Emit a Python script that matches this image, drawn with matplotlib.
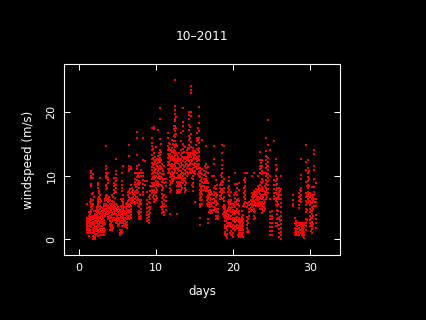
import matplotlib
matplotlib.use('Agg')
import matplotlib.pyplot as plt

plt.rcParams['font.family'] = ['DejaVu Sans']

# wind readings grouped by quarter day columns
days = [1.0, 1.25, 1.5, 1.75, 2.0, 2.25, 2.5, 2.75, 3.0, 3.25, 3.5, 3.75,
        4.0, 4.25, 4.5, 4.75, 5.0, 5.25, 5.5, 5.75, 6.0, 6.25, 6.5, 6.75,
        7.0, 7.25, 7.5, 7.75, 8.0, 8.25, 8.5, 8.75, 9.0, 9.25, 9.5, 9.75,
        10.0, 10.25, 10.5, 10.75, 11.0, 11.25, 11.5, 11.75, 12.0, 12.25, 12.5, 12.75,
        13.0, 13.25, 13.5, 13.75, 14.0, 14.25, 14.5, 14.75, 15.0, 15.25, 15.5, 15.75,
        16.0, 16.25, 16.5, 16.75, 17.0, 17.25, 17.5, 17.75, 18.0, 18.25, 18.5, 18.75,
        19.0, 19.25, 19.5, 19.75, 20.0, 20.25, 20.5, 20.75, 21.0, 21.25, 21.5, 21.75,
        22.0, 22.25, 22.5, 22.75, 23.0, 23.25, 23.5, 23.75, 24.0, 24.25, 24.5, 24.75,
        25.0, 25.25, 25.5, 25.75, 26.0, 26.25, 27.75, 28.0, 28.25, 28.5, 28.75, 29.0,
        29.25, 29.5, 29.75, 30.0, 30.25, 30.5, 30.75]

speeds = [
    [1.0, 1.4, 1.7, 2.1, 2.4, 2.7, 3.0, 3.3, 5.6],
    [0.5, 0.9, 1.3, 1.6, 2.0, 2.5, 2.8, 3.2, 3.7, 4.3],
    [1.0, 1.5, 1.9, 2.2, 2.6, 3.0, 3.5, 4.2, 4.6, 5.1, 5.6, 6.0, 6.4, 8.4, 8.7, 9.6, 10.0, 10.4, 10.7],
    [0.1, 0.5, 0.9, 1.4, 1.8, 2.2, 2.7, 3.1, 3.6, 5.2, 5.6, 6.1, 7.3, 9.7, 10.2],
    [0.0, 0.4, 0.8, 1.3, 1.7, 2.0, 2.5, 2.9, 3.3, 3.7, 4.0],
    [0.8, 1.3, 1.7, 2.1, 2.6, 3.0, 3.4, 3.8, 4.3, 4.8, 5.1],
    [0.5, 0.9, 1.5, 1.9, 2.4, 2.8, 3.2, 3.7, 4.1, 4.6, 5.1, 5.5, 6.0, 6.4, 8.0, 8.5, 8.9],
    [0.7, 1.2, 1.6, 2.0, 2.5, 2.9, 3.4, 3.9, 4.3, 4.7, 5.3, 5.9, 6.3, 7.0, 9.6],
    [0.7, 1.1, 1.6, 2.1, 2.5, 2.8, 3.2, 3.6, 4.0, 4.5],
    [0.7, 1.2, 1.7, 2.2, 2.6, 3.0, 3.5, 3.9, 4.4, 4.8, 5.3, 5.6],
    [3.9, 4.3, 4.7, 5.2, 5.6, 6.1, 6.7, 7.0, 7.9, 8.3, 8.6, 9.6, 10.0, 10.5, 11.0, 11.5, 14.7],
    [3.1, 3.5, 3.9, 4.4, 4.9, 5.3, 5.8, 6.3, 8.9, 9.3, 9.7, 10.4],
    [1.5, 2.0, 2.4, 2.9, 3.3, 3.7, 4.2, 4.7, 5.1, 5.6, 6.1],
    [1.5, 1.9, 2.3, 2.8, 3.3, 3.8, 4.2, 4.7, 5.1, 5.6, 6.0, 6.9],
    [3.0, 3.4, 3.9, 4.4, 4.8, 5.3, 5.9, 7.3, 7.8, 8.3, 8.9, 9.6],
    [2.5, 3.0, 3.4, 3.9, 4.4, 4.9, 5.6, 7.5, 8.0, 8.6, 9.1, 9.6, 10.3, 10.7, 12.7],
    [2.0, 2.4, 2.9, 3.3, 3.8, 4.3, 5.1],
    [0.7, 1.0, 1.5, 2.5, 2.9, 3.3, 3.8, 4.2, 4.6],
    [1.0, 1.5, 2.0, 2.5, 2.9, 3.3, 3.9, 4.3, 4.9, 6.0, 7.6, 8.1, 8.6, 9.2, 10.5],
    [2.5, 2.9, 3.4, 3.9, 4.3, 4.8, 5.3, 5.8, 6.9, 11.5],
    [2.0, 2.4, 2.9, 3.4, 3.9, 4.5, 5.1],
    [1.7, 2.2, 2.7, 3.1, 3.6, 4.1, 4.6, 5.2, 5.7],
    [3.1, 3.6, 4.1, 4.6, 5.1, 5.6, 6.2, 6.7, 7.6, 10.7, 11.1, 11.6, 13.1, 14.8],
    [3.3, 3.8, 4.3, 4.8, 5.3, 5.7, 6.2, 8.5, 8.5, 11.0, 11.4],
    [5.7, 6.2, 6.7, 7.1, 7.7],
    [5.5, 5.9, 6.4, 6.9, 7.4, 8.5, 9.0, 9.5, 10.4],
    [5.7, 6.2, 6.7, 7.2, 7.7, 8.2, 8.7, 9.3, 9.8, 10.4, 11.0, 11.6, 13.2, 15.9, 16.9],
    [3.1, 3.5, 4.0, 4.5, 5.1, 5.6, 6.2, 8.0, 8.5, 9.1, 9.8, 10.5, 11.7],
    [3.2, 3.6, 4.2, 4.8, 5.5, 6.1, 9.9, 10.4, 10.9],
    [7.0, 7.5, 8.1, 8.7, 9.3, 10.0, 10.5, 12.5, 15.9],
    [8.6, 9.2, 12.3],
    [2.8, 3.3, 3.8, 4.3, 4.9, 5.5, 6.1, 7.5, 9.1],
    [2.6, 3.0, 3.5, 4.0, 4.5, 5.1, 5.8, 6.6],
    [4.1, 4.7, 5.1, 5.7, 6.3, 7.0, 7.6, 8.3],
    [7.3, 7.8, 8.4, 8.9, 9.5, 10.2, 10.9, 11.4, 12.0, 12.6, 13.3, 14.0, 14.7, 15.1, 16.0, 17.5],
    [5.9, 6.4, 7.0, 7.7, 8.3, 8.9, 9.4, 10.0, 10.6, 11.2, 11.9, 12.5, 13.6, 17.3, 17.7],
    [6.2, 6.8, 7.4, 8.0, 8.6, 9.2, 9.9, 10.5, 11.1, 11.8, 12.4, 14.5],
    [8.4, 9.0, 9.6, 10.2, 10.7, 11.3, 12.0, 12.7, 13.1, 17.2],
    [9.4, 10.0, 10.5, 11.0, 11.6, 12.2, 12.8, 13.3, 14.0, 15.8, 18.9, 20.7],
    [4.1, 4.7, 5.3, 5.9, 6.5, 7.1, 7.8, 8.4, 9.0, 9.6, 10.3, 11.1, 11.9],
    [3.8, 4.3, 5.0, 5.6, 6.2, 7.0, 8.8, 9.5, 10.2, 11.5],
    [4.6, 5.3, 6.0, 6.6, 8.3, 9.0, 9.5],
    [10.5, 11.1, 11.7, 12.2, 12.8, 13.4, 14.0, 14.6, 15.9, 16.7],
    [4.0, 7.4, 8.0, 8.6, 9.2, 9.8, 10.4, 11.0, 11.7, 12.3, 12.9, 13.4, 14.1, 15.0],
    [8.9, 9.4, 10.0, 10.6, 11.2, 11.8, 12.4, 13.1, 13.7, 14.3, 15.6],
    [9.4, 10.0, 10.5, 11.1, 11.7, 12.3, 12.9, 13.5, 14.1, 14.8, 15.5, 16.2, 17.4, 17.9],
    [10.9, 11.5, 12.0, 12.6, 13.2, 13.9, 14.6, 15.4, 16.1, 17.0, 17.9, 18.6, 19.0, 19.7, 20.3, 21.0, 25.1],
    [3.9, 7.2, 7.8, 8.4, 9.0, 9.7, 10.5, 11.2, 12.0, 12.6, 13.3, 14.7],
    [7.2, 7.8, 8.4, 9.0, 9.6, 10.1, 10.7, 11.2, 11.9, 12.6, 13.5],
    [7.8, 8.4, 9.0, 9.6, 10.2, 10.8, 11.4, 12.0, 12.6, 13.2, 14.0, 15.5, 16.7],
    [8.8, 9.4, 10.0, 10.5, 11.1, 11.7, 12.3, 12.9, 13.5, 14.2, 15.0, 17.0, 17.8, 18.4, 20.7],
    [7.4, 8.0, 8.6, 9.2, 9.7, 10.3, 10.9, 11.6, 12.2, 13.0, 14.5],
    [10.0, 10.6, 11.2, 11.8, 12.4, 13.0, 13.6, 14.0],
    [10.5, 11.1, 11.7, 12.3, 12.9, 13.6, 14.2, 14.8, 15.6, 16.3, 17.2, 18.0, 18.9, 19.6, 20.1],
    [10.5, 11.1, 11.8, 12.4, 13.0, 13.6, 14.5, 15.3, 16.5, 19.4, 20.0, 23.1, 23.5, 24.1],
    [7.6, 8.2, 8.8, 9.4, 10.0, 10.6, 11.2, 11.9, 12.6, 13.2, 13.9, 14.4],
    [5.9, 10.2, 10.8, 11.4, 12.0, 12.6, 13.2, 13.9],
    [11.1, 11.8, 12.3, 12.9, 13.5, 14.2, 15.4, 16.0, 16.7],
    [10.0, 10.6, 11.2, 11.8, 12.4, 13.1, 13.7, 14.4, 15.2, 16.0, 17.0, 18.3, 19.4, 20.9],
    [2.3, 3.4, 5.1, 5.6, 6.2, 6.9, 7.7, 8.4, 9.1, 9.8, 10.5, 11.2],
    [5.6, 6.1, 7.1, 7.8, 8.4, 9.0, 9.6, 10.2, 11.1, 15.6],
    [7.7, 8.3, 8.9, 9.5, 10.1, 10.8],
    [7.6, 8.2, 8.8, 9.4, 10.0, 10.6, 11.2, 11.8, 14.7],
    [2.6, 3.1, 5.2, 5.8, 6.4, 7.0, 7.6, 8.2, 8.9, 10.5, 11.4],
    [4.1, 4.6, 5.1, 5.7, 6.2, 7.0, 7.7],
    [4.1, 4.6, 5.2, 5.7, 6.3, 7.1, 9.9],
    [4.6, 5.1, 5.7, 6.3, 6.9, 7.5, 8.0, 9.9, 11.8, 12.6, 14.7],
    [3.1, 3.6, 4.2, 4.8, 5.4, 6.0, 6.6, 7.2, 7.9, 9.3],
    [3.1, 3.6, 4.2, 4.8, 5.5],
    [6.3, 6.8, 7.4, 8.1, 8.6],
    [7.3, 7.9, 8.5, 9.1, 9.8, 10.4, 11.0, 11.7, 12.4, 13.6, 14.8],
    [3.6, 4.2, 4.8, 5.4, 6.0, 6.7, 7.4, 8.0, 9.4, 14.7],
    [0.7, 1.2, 1.7, 2.3, 2.9, 3.4, 3.9, 4.5, 5.1],
    [0.2, 0.8, 1.4, 2.0, 2.6, 3.2, 3.9, 4.5],
    [2.0, 2.6, 3.2, 3.8, 4.4, 5.0, 5.6, 6.2, 7.0, 7.7, 8.4, 9.1, 9.8],
    [0.7, 1.3, 1.9, 2.5, 3.1, 3.7, 4.3, 4.9, 5.5, 6.1, 7.4],
    [0.4, 1.0, 1.6, 2.2, 2.8, 3.4, 4.0, 4.6, 5.5],
    [1.5, 2.1, 2.7, 3.3, 3.9, 4.5, 5.1, 5.8, 6.5, 7.2, 8.7, 10.5],
    [1.7, 2.3, 2.9, 3.5, 4.1, 4.7, 5.5, 6.2, 7.0, 8.0, 8.7],
    [0.4, 0.9, 1.5, 2.1, 2.7, 3.3, 3.9, 4.5, 5.2, 6.0, 7.8, 8.8],
    [0.4, 0.9, 1.5, 2.1, 2.7, 3.2],
    [0.4, 0.9, 1.4, 2.0, 2.6, 3.2, 3.8, 5.2],
    [5.2, 5.8, 6.3, 7.0, 7.6, 8.3, 9.0, 9.7, 10.4],
    [1.2, 1.8, 2.3, 2.9, 3.5, 5.1, 5.7, 10.5],
    [1.2, 3.6, 4.2, 4.7, 5.4, 5.9],
    [4.4, 4.9, 5.5, 6.1],
    [5.0, 5.5, 6.0, 6.7, 7.2, 9.9],
    [3.1, 3.6, 4.2, 4.8, 5.4, 6.0, 6.7, 7.2, 7.6, 10.5],
    [5.2, 5.7, 6.2, 6.8, 7.4, 7.9],
    [5.2, 5.7, 6.2, 6.7, 7.2, 7.8, 8.4, 9.9],
    [4.8, 5.3, 5.9, 6.5, 7.1, 7.7, 8.6, 10.4, 11.0, 11.5, 12.4, 13.8],
    [4.1, 4.7, 5.3, 5.8, 6.4, 7.0, 7.6, 8.2, 8.8, 9.4, 10.2, 10.8, 11.6, 12.4],
    [4.5, 5.0, 5.6, 6.2, 6.9, 7.6, 10.5],
    [6.4, 7.0, 7.5, 8.1, 8.7, 9.3, 9.9, 10.5, 11.2, 11.8, 12.4, 13.1, 13.9, 15.9],
    [7.3, 7.9, 8.5, 9.1, 9.7, 10.3, 10.9, 11.5, 12.1, 12.8, 14.9, 18.8],
    [0.7, 1.3, 1.9, 2.5, 3.1, 3.7, 4.3, 6.3, 9.9, 14.1],
    [0.7, 1.3, 1.9, 2.5, 3.1, 3.7, 4.5],
    [6.3, 6.8, 7.3, 7.9, 8.6, 9.3, 15.4],
    [2.0, 2.6, 5.4, 6.0, 6.5, 7.2, 7.8, 8.5, 9.1, 9.9, 10.9, 11.7, 12.7],
    [2.0, 2.6, 3.2, 4.0, 4.6, 5.2, 5.8, 6.4, 7.1, 8.0, 8.7, 9.5, 11.0],
    [0.4, 1.0, 1.6, 2.2, 3.2, 6.4, 6.9, 7.4, 8.1],
    [0.1, 0.6, 1.2, 1.8, 2.4, 3.0, 3.6, 4.3, 5.0, 5.7, 6.4, 7.0, 7.9, 9.9],
    [5.2, 5.6, 6.2, 7.0],
    [0.7, 1.2, 1.8, 2.6, 3.3],
    [0.7, 1.1, 1.6, 2.1, 2.5],
    [0.7, 1.2, 1.7, 2.3, 2.5, 4.9, 5.4, 6.0, 6.6, 7.2],
    [1.0, 1.5, 2.0, 2.5, 5.9, 6.4, 7.0, 7.6, 8.1, 9.4, 10.1, 12.7],
    [0.7, 1.1, 1.6, 2.1, 2.5],
    [0.2, 0.7, 1.2, 1.7, 2.2, 2.5],
    [1.5, 2.0, 2.6, 3.2, 4.3, 4.8, 5.4, 6.0, 6.6, 7.2, 9.0, 10.9, 12.2, 14.9],
    [5.7, 6.3, 6.8, 7.4, 8.0, 8.6, 9.2, 9.8, 10.5, 11.2, 12.4],
    [2.0, 2.5, 3.0, 3.6, 4.2, 4.8, 5.4, 6.0, 6.6, 7.3],
    [1.0, 1.6, 2.1, 2.7, 3.3, 3.9, 4.5, 5.1, 5.7, 6.3, 6.9, 8.2],
    [5.2, 5.8, 6.3, 6.9, 7.5, 8.2, 9.4, 10.9, 11.5, 13.4, 14.0],
    [1.7, 2.5, 3.1, 3.8, 5.3, 5.8, 6.3, 8.8],
]

# readings that sit between the quarter day columns, in the denser stretches
mid_days = [1.38, 1.63, 1.88, 2.13, 2.38, 2.63, 2.88, 3.13, 3.38, 3.63, 3.88, 4.13,
            4.38, 4.63, 4.88, 5.13, 5.38, 5.63, 5.88, 6.13, 6.38, 6.63, 6.88, 7.38,
            7.63, 7.88, 9.63, 9.88, 10.13, 10.38, 10.63, 10.88, 11.63, 11.88, 12.13, 12.38,
            12.63, 12.88, 13.13, 13.38, 13.63, 13.88, 14.13, 14.38, 14.63, 14.88, 15.13, 15.38,
            15.63, 15.88, 16.38, 16.63, 16.88, 17.13, 17.63, 17.88, 18.38, 18.63, 18.88, 19.13,
            19.38, 19.63, 19.88, 20.13, 20.38, 20.63, 20.88, 21.13, 21.38, 21.88, 22.38, 22.63,
            22.88, 23.13, 23.38, 23.63, 23.88, 24.13, 24.38, 25.88, 26.13, 28.13, 28.63, 28.88,
            29.13, 29.63, 29.88, 30.13, 30.38]

mid_speeds = [
    [1.1, 2.3, 3.4, 4.0, 5.9],
    [0.9, 2.4, 3.3, 4.7, 5.4, 6.2, 7.1],
    [0.3, 1.1, 2.4, 3.4, 4.4, 6.6],
    [0.6, 1.5, 2.7, 3.5, 4.5],
    [1.0, 1.9, 3.1, 4.1, 5.3, 5.9],
    [1.1, 2.2, 3.5, 4.4, 5.7, 6.7, 7.2, 7.6],
    [1.4, 2.7, 3.7, 5.0, 6.0],
    [1.3, 2.3, 3.4, 4.2, 4.9],
    [1.5, 2.4, 3.7, 5.5, 6.0, 6.4],
    [4.5, 5.4, 6.4, 6.9, 8.1, 9.8, 10.2],
    [3.2, 4.1, 5.0, 6.0, 6.7],
    [1.8, 2.6, 3.5, 4.5, 5.4],
    [1.7, 3.0, 4.0, 4.9, 5.8, 6.6],
    [3.2, 4.1, 5.0, 5.6, 6.5, 7.6, 8.6],
    [2.7, 3.6, 4.6, 5.4],
    [2.2, 3.1, 4.0, 4.8],
    [1.2, 2.7, 3.5, 4.6, 5.2, 6.3],
    [2.7, 3.7, 4.6, 5.5, 6.4],
    [2.2, 3.2, 4.2, 5.0],
    [1.9, 2.5, 3.8, 4.9, 5.5],
    [3.4, 4.4, 5.4, 6.0, 7.0, 7.4],
    [3.6, 4.5, 5.5, 6.5, 7.2, 7.9],
    [5.9, 6.5, 7.4, 8.0],
    [5.7, 6.6, 7.6, 8.2],
    [4.2, 5.3, 6.4, 7.4, 8.8, 10.1],
    [3.4, 4.3, 5.9, 6.9, 8.8],
    [6.7, 7.5, 8.6, 9.8, 10.5, 11.7, 12.8, 14.2],
    [6.1, 7.3, 8.6, 9.7, 10.9, 12.2, 13.0],
    [6.5, 7.7, 8.9, 10.4, 11.5, 12.7],
    [8.7, 9.9, 11.0, 12.4, 13.5],
    [5.0, 8.6, 9.8, 11.3, 12.5, 13.7, 15.0],
    [4.4, 5.6, 6.8, 8.1, 9.3, 10.8],
    [10.8, 12.0, 13.1, 14.3, 15.2],
    [7.7, 8.9, 10.1, 11.5, 12.7, 14.0],
    [9.2, 10.3, 11.5, 12.7, 13.9, 15.0],
    [9.7, 10.8, 12.0, 13.2, 14.5, 16.6],
    [11.2, 12.3, 13.5, 15.0, 16.5, 17.5, 19.3],
    [7.5, 8.7, 9.9, 10.9, 12.3, 13.0],
    [7.5, 8.7, 9.9, 11.5, 12.3],
    [8.1, 9.3, 10.5, 11.7, 12.9, 13.6],
    [9.1, 10.3, 11.4, 12.6, 13.8, 14.6],
    [7.7, 8.9, 10.6, 11.9, 12.7],
    [10.3, 11.5, 12.7, 13.3, 14.4],
    [10.8, 12.0, 13.3, 14.5, 15.9, 17.6],
    [8.5, 9.7, 10.9, 12.3, 13.5],
    [10.5, 11.7, 12.9, 13.6],
    [11.4, 12.6, 13.8, 14.9],
    [10.3, 11.5, 12.8, 14.0, 15.6, 17.5],
    [5.3, 6.5, 7.3, 8.7, 9.9, 10.8],
    [6.6, 7.4, 8.1, 9.3, 10.5],
    [8.0, 9.2, 10.3, 11.5],
    [5.5, 6.1, 6.7, 7.9, 9.1],
    [4.3, 5.4, 6.6, 7.3],
    [4.4, 5.5, 6.5, 7.4],
    [4.9, 6.0, 7.2, 8.3],
    [3.3, 4.5, 5.7, 6.9, 8.5],
    [6.5, 7.0, 7.7, 8.9, 10.1],
    [3.9, 5.1, 6.3, 7.6, 9.0],
    [1.0, 2.1, 3.3, 4.2, 4.8],
    [0.5, 1.7, 2.9, 3.6, 4.2],
    [2.3, 3.5, 4.7, 5.9, 7.4, 8.0],
    [1.0, 2.2, 3.4, 4.6, 5.8, 6.8],
    [0.7, 1.9, 3.1, 4.3, 5.1],
    [1.8, 3.0, 4.2, 5.4, 6.9],
    [2.0, 3.2, 4.4, 5.8, 7.4],
    [0.6, 1.8, 3.0, 4.2, 5.6, 6.4],
    [0.7, 1.8, 2.4, 3.0],
    [0.7, 1.7, 2.3, 2.9, 3.5, 4.4],
    [5.5, 6.6, 7.3, 8.0, 9.3],
    [1.5, 2.6, 3.2, 5.4],
    [4.6, 5.2, 5.7],
    [5.3, 5.8, 6.4, 7.0],
    [3.3, 4.5, 5.7, 7.0],
    [5.5, 6.5, 7.1, 7.6],
    [5.5, 6.4, 7.5, 8.1],
    [5.6, 6.8, 7.9, 9.0, 11.2, 12.0],
    [4.4, 5.5, 6.7, 7.9, 9.1, 10.5],
    [4.8, 5.9, 7.2, 8.3],
    [6.7, 7.8, 9.0, 10.2, 11.5, 13.0],
    [2.2, 3.4, 4.4, 5.5, 6.6],
    [2.9, 3.5, 7.0, 7.6],
    [0.8, 1.5, 2.2, 2.9],
    [1.4, 2.4, 6.1, 6.8, 7.8],
    [0.9, 1.4, 1.9, 2.4],
    [0.5, 1.0, 1.5, 2.0, 2.4],
    [3.0, 4.6, 5.7, 6.9, 8.4],
    [6.0, 7.1, 8.3, 9.5, 10.8],
    [1.3, 2.3, 3.3, 4.5, 5.7, 6.9],
    [2.4, 3.6, 4.8, 6.0, 6.6],
]

year_label = '10–2011'
x_ticks = [0, 10, 20, 30]
y_ticks = [0, 10, 20]

x = []
y = []
for d, vals in zip(days + mid_days, speeds + mid_speeds):
    for v in vals:
        x.append(d)
        y.append(v)

fig = plt.figure(figsize=(4.26, 3.2), dpi=100, facecolor='black')
ax = fig.add_axes([64.2 / 426, 1 - 255.0 / 320, 276 / 426, 191 / 320], facecolor='black')
ax.plot(x, y, ls='none', marker='s', ms=1.9, mew=0, color='#ff0000', antialiased=False)

ax.set_xlim(-1.95, 33.9)
ax.set_ylim(-2.5, 27.6)
ax.set_xticks(x_ticks)
ax.set_yticks(y_ticks)
ax.tick_params(direction='in', top=True, right=True, length=4.2, width=0.72, colors='white',
               labelsize=8, pad=5.5)
for lab in ax.get_yticklabels():
    lab.set_rotation(90)
    lab.set_va('center')
for s in ax.spines.values():
    s.set_color('white')
    s.set_linewidth(0.8)

ax.set_xlabel('days', color='white', fontsize=8.5)
ax.xaxis.set_label_coords(0.5, -0.155)
ax.set_ylabel('windspeed (m/s)', color='white', fontsize=8.5)
ax.yaxis.set_label_coords(-0.105, 0.5)
fig.text(202 / 426, 1 - 37 / 320, year_label, color='white', fontsize=8.8, ha='center', va='center')

fig.savefig('out.png', dpi=100, facecolor='black')
